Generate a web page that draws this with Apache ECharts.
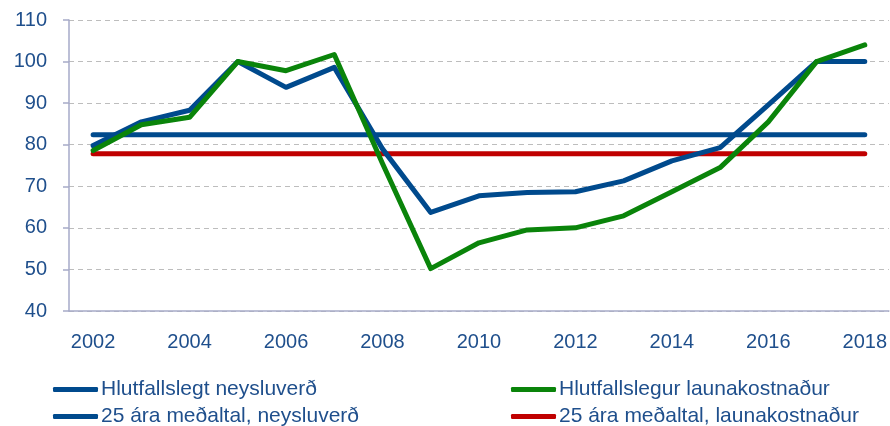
<!DOCTYPE html>
<html>
<head>
<meta charset="utf-8">
<script src="https://cdn.jsdelivr.net/npm/echarts@6/dist/echarts.min.js"></script>
<style>
  html, body { margin: 0; padding: 0; background: #fff; }
  #chart { width: 890px; height: 426px; }
</style>
</head>
<body>
<div id="chart"></div>
<script>
  // years on the x axis
  const years = ['2002', '2003', '2004', '2005', '2006', '2007', '2008', '2009', '2010',
    '2011', '2012', '2013', '2014', '2015', '2016', '2017', '2018']

  // Hlutfallslegt neysluverð
  const neysluverd = [79.8, 85.5, 88.3, 100, 93.8, 98.6, 79, 63.7, 67.7,
    68.5, 68.7, 71.3, 76.1, 79.3, 89.6, 100, 100]
  // Hlutfallslegur launakostnaður
  const launakostn = [78.6, 84.8, 86.6, 100, 97.8, 101.7, 75.5, 50.2, 56.4,
    59.5, 60, 62.9, 68.7, 74.5, 85.5, 100, 104]
  // 25 ára meðaltal
  const medaltalNeysla = [82.4, 82.4, 82.4, 82.4, 82.4, 82.4, 82.4, 82.4, 82.4,
    82.4, 82.4, 82.4, 82.4, 82.4, 82.4, 82.4, 82.4]
  const medaltalLaun = [77.8, 77.8, 77.8, 77.8, 77.8, 77.8, 77.8, 77.8, 77.8,
    77.8, 77.8, 77.8, 77.8, 77.8, 77.8, 77.8, 77.8]

  const names = ['Hlutfallslegt neysluverð', 'Hlutfallslegur launakostnaður',
    '25 ára meðaltal, neysluverð', '25 ára meðaltal, launakostnaður']

  const textColor = '#1f4f8c'
  const axisColor = '#a6aac8'
  const font = 'Liberation Sans'

  function line(name, data, color, z) {
    return {
      name: name,
      type: 'line',
      data: data,
      symbol: 'none',
      z: z,
      lineStyle: { color: color, width: 5, cap: 'round', join: 'round' },
      itemStyle: { color: color }
    }
  }

  const legendBase = {
    orient: 'vertical',
    top: 379,
    height: 80,
    padding: 0,
    itemWidth: 45,
    itemHeight: 5,
    itemGap: 6,
    icon: 'roundRect',
    textStyle: { color: textColor, fontSize: 21, fontFamily: font, padding: [0, 0, 0, -2] }
  }

  const chart = echarts.init(document.getElementById('chart'))
  chart.setOption({
    animation: false,
    grid: { left: 69, right: 0, top: 20, bottom: 115 },
    legend: [
      Object.assign({ left: 53, data: [names[0], names[2]] }, legendBase),
      Object.assign({ left: 511, data: [names[1], names[3]] }, legendBase)
    ],
    xAxis: {
      type: 'category',
      data: years,
      axisLine: { lineStyle: { color: axisColor, width: 1.5 } },
      axisTick: { interval: 0, length: 7, lineStyle: { color: axisColor, width: 1.5 } },
      axisLabel: { interval: 1, color: textColor, fontSize: 20, fontFamily: font, margin: 21 }
    },
    yAxis: {
      type: 'value',
      min: 40,
      max: 110,
      interval: 10,
      axisLine: { show: true, lineStyle: { color: axisColor, width: 1.5 } },
      axisTick: { show: true, length: 6, lineStyle: { color: axisColor, width: 1.5 } },
      axisLabel: { color: textColor, fontSize: 20, fontFamily: font, margin: 22 },
      splitLine: { lineStyle: { color: '#bdbdbd', type: [5, 4], width: 1.2 } }
    },
    series: [
      line(names[2], medaltalNeysla, '#004a8d', 2),
      line(names[3], medaltalLaun, '#c00000', 2),
      line(names[0], neysluverd, '#004a8d', 3),
      line(names[1], launakostn, '#0a840a', 4)
    ]
  })
</script>
</body>
</html>
